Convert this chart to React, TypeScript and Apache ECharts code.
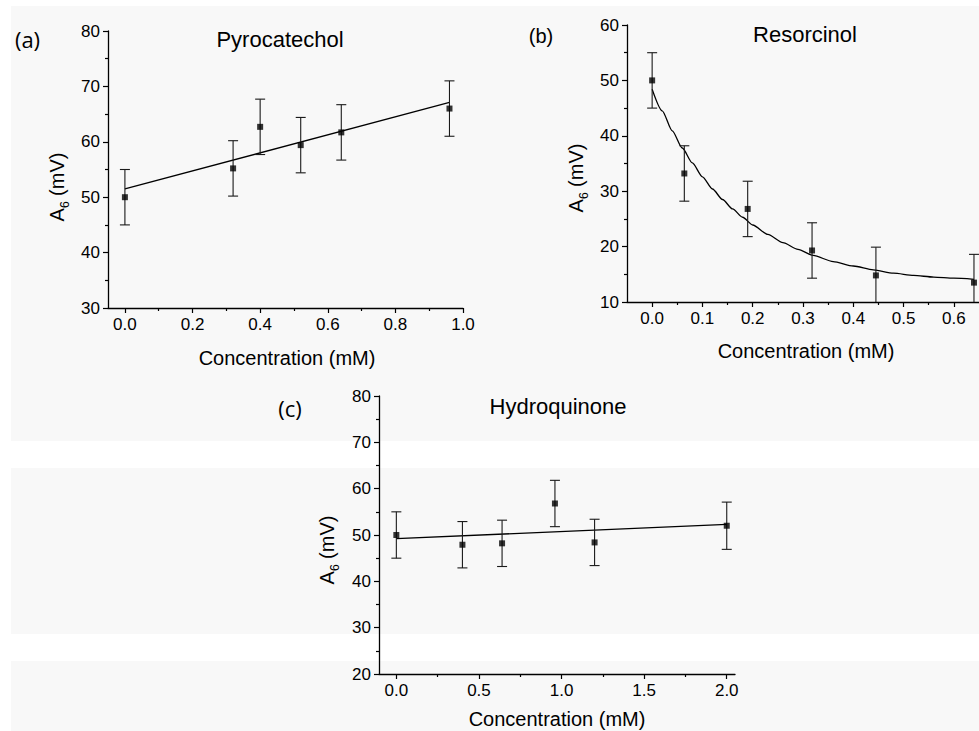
import React, { useEffect, useRef } from "react";
import * as echarts from "echarts";

// ---- Panel (a) Pyrocatechol ----
const pyroConc = [0, 0.32, 0.4, 0.52, 0.64, 0.96];
const pyroA6 = [50.0, 55.2, 62.7, 59.4, 61.7, 66.0];
const pyroErr = [5, 5, 5, 5, 5, 5];
const pyroFitX = [0, 0.96];
const pyroFitY = [51.5, 67.1];

// ---- Panel (b) Resorcinol ----
const resoConc = [0, 0.064, 0.19, 0.318, 0.445, 0.64];
const resoA6 = [50.0, 33.2, 26.8, 19.3, 14.8, 13.5];
const resoErr = [5, 5, 5, 5, 5.1, 5.1];
const resoFitX = [0, 0.02, 0.04, 0.06, 0.08, 0.1, 0.12, 0.14, 0.16, 0.18, 0.2, 0.23, 0.26, 0.29, 0.32, 0.36, 0.4, 0.44, 0.48, 0.52, 0.56, 0.6, 0.64];
const resoFitY = [48.4, 44.5, 40.9, 37.8, 35.1, 32.6, 30.4, 28.5, 26.8, 25.3, 23.9, 22.2, 20.7, 19.5, 18.4, 17.3, 16.5, 15.8, 15.2, 14.8, 14.5, 14.3, 14.1];

// ---- Panel (c) Hydroquinone ----
const hydroConc = [0, 0.4, 0.64, 0.96, 1.2, 2.0];
const hydroA6 = [50.0, 47.9, 48.2, 56.8, 48.4, 52.0];
const hydroErr = [5, 5, 5, 5, 5, 5.1];
const hydroFitX = [0, 2.0];
const hydroFitY = [49.2, 52.3];

// ---- Tick values ----
const xTicksA = [0, 0.2, 0.4, 0.6, 0.8, 1.0];
const xMinorA = [0.1, 0.3, 0.5, 0.7, 0.9];
const xTicksB = [0, 0.1, 0.2, 0.3, 0.4, 0.5, 0.6];
const xMinorB = [0.05, 0.15, 0.25, 0.35, 0.45, 0.55];
const xTicksC = [0, 0.5, 1.0, 1.5, 2.0];
const xMinorC = [0.25, 0.75, 1.25, 1.75];

const ARIAL = "'Liberation Sans', Arial, sans-serif";
const CALIBRI = "'Open Sans', 'Noto Sans', sans-serif";
const INK = "#000";

const zip = (xs: number[], ys: number[]) => xs.map((x, i) => [x, ys[i]]);
const errData = (xs: number[], ys: number[], es: number[]) =>
  xs.map((x, i) => [x, ys[i] - es[i], ys[i] + es[i]]);

function makeXAxes(gridIndex: number, min: number, max: number, ticks: number[], minor: number[]) {
  return [
    {
      type: "value",
      gridIndex,
      position: "bottom",
      min,
      max,
      axisLine: { show: true, onZero: false, lineStyle: { color: INK, width: 1.3 } },
      axisTick: { show: true, length: 5, inside: false, customValues: ticks, lineStyle: { color: INK, width: 1.2 } },
      axisLabel: {
        show: true,
        customValues: ticks,
        formatter: (v: number) => v.toFixed(1),
        fontSize: 17,
        fontFamily: ARIAL,
        color: INK,
        margin: 8,
      },
      splitLine: { show: false },
    },
    {
      type: "value",
      gridIndex,
      position: "bottom",
      min,
      max,
      axisLine: { show: false, onZero: false },
      axisTick: { show: true, length: 3, inside: false, customValues: minor, lineStyle: { color: INK, width: 1.2 } },
      axisLabel: { show: false },
      splitLine: { show: false },
    },
  ];
}

function makeYAxis(gridIndex: number, min: number, max: number) {
  return {
    type: "value",
    gridIndex,
    position: "left",
    min,
    max,
    interval: 10,
    axisLine: { show: true, onZero: false, lineStyle: { color: INK, width: 1.3 } },
    axisTick: { show: true, length: 5, inside: false, lineStyle: { color: INK, width: 1.2 } },
    minorTick: { show: true, splitNumber: 2, length: 3, lineStyle: { color: INK, width: 1.2 } },
    axisLabel: { fontSize: 17, fontFamily: ARIAL, color: INK, margin: 8 },
    splitLine: { show: false },
  };
}

function makeSeries(
  idx: number,
  xs: number[],
  ys: number[],
  es: number[],
  fx: number[],
  fy: number[],
  smooth: boolean
) {
  return [
    {
      type: "line",
      xAxisIndex: idx * 2,
      yAxisIndex: idx,
      data: zip(fx, fy),
      symbol: "none",
      smooth: smooth ? 0.25 : false,
      smoothMonotone: smooth ? "x" : undefined,
      lineStyle: { color: INK, width: 1.3 },
      silent: true,
      z: 3,
    },
    {
      type: "custom",
      xAxisIndex: idx * 2,
      yAxisIndex: idx,
      clip: true,
      data: errData(xs, ys, es),
      encode: { x: 0, y: [1, 2] },
      z: 4,
      renderItem: (params: any, api: any) => {
        const x = api.value(0);
        const lo = api.coord([x, api.value(1)]);
        const hi = api.coord([x, api.value(2)]);
        const w = 5;
        const st = { stroke: "#1a1a1a", lineWidth: 1.1 };
        return {
          type: "group",
          children: [
            { type: "line", shape: { x1: lo[0], y1: lo[1], x2: hi[0], y2: hi[1] }, style: st },
            { type: "line", shape: { x1: lo[0] - w, y1: lo[1], x2: lo[0] + w, y2: lo[1] }, style: st },
            { type: "line", shape: { x1: hi[0] - w, y1: hi[1], x2: hi[0] + w, y2: hi[1] }, style: st },
          ],
        };
      },
    },
    {
      type: "scatter",
      xAxisIndex: idx * 2,
      yAxisIndex: idx,
      data: zip(xs, ys),
      symbol: "rect",
      symbolSize: 6,
      itemStyle: { color: INK },
      z: 5,
    },
  ];
}

const text = (t: string, x: number, y: number, size: number, family: string, extra: any = {}) => ({
  type: "text",
  x,
  y,
  z: 10,
  style: {
    text: t,
    fontSize: size,
    fontFamily: family,
    fill: INK,
    align: "center",
    verticalAlign: "middle",
  },
  ...extra,
});

const yTitle = (x: number, y: number) => ({
  type: "text",
  x,
  y,
  z: 10,
  rotation: Math.PI / 2,
  style: {
    text: "{a|A}{s|6}{a| (mV)}",
    align: "center",
    verticalAlign: "middle",
    fill: INK,
    rich: {
      a: { fontSize: 20, fontFamily: ARIAL, fill: INK, lineHeight: 28 },
      s: { fontSize: 12, fontFamily: ARIAL, fill: INK, lineHeight: 28, verticalAlign: "bottom" },
    },
  },
});

const bg = (x: number, y: number, w: number, h: number, color: string) => ({
  type: "rect",
  z: -10,
  silent: true,
  shape: { x, y, width: w, height: h },
  style: { fill: color },
});

export default function App() {
  const ref = useRef<HTMLDivElement>(null);
  useEffect(() => {
    if (!ref.current) return;
    const chart = echarts.init(ref.current, undefined, { renderer: "svg" });
    const option: any = {
      animation: false,
      backgroundColor: "#ffffff",
      grid: [
        { left: 108, top: 31, width: 355, height: 277 },
        { left: 627, top: 25, width: 356.5, height: 277 },
        { left: 379, top: 396, width: 356, height: 278 },
      ],
      xAxis: [
        ...makeXAxes(0, -0.05, 1.0, xTicksA, xMinorA),
        ...makeXAxes(1, -0.05, 0.65, xTicksB, xMinorB),
        ...makeXAxes(2, -0.105, 2.05, xTicksC, xMinorC),
      ],
      yAxis: [makeYAxis(0, 30, 80), makeYAxis(1, 10, 60), makeYAxis(2, 20, 80)],
      series: [
        ...makeSeries(0, pyroConc, pyroA6, pyroErr, pyroFitX, pyroFitY, false),
        ...makeSeries(1, resoConc, resoA6, resoErr, resoFitX, resoFitY, true),
        ...makeSeries(2, hydroConc, hydroA6, hydroErr, hydroFitX, hydroFitY, false),
      ],
      graphic: [
        bg(11, 6, 968, 435, "#f8f8f8"),
        bg(11, 468, 968, 166, "#f8f8f8"),
        bg(11, 661, 968, 70, "#f8f8f8"),
        text("(a)", 27.5, 38.5, 22, CALIBRI),
        text("(b)", 541, 36, 20, ARIAL),
        text("(c)", 290, 407.5, 22, CALIBRI),
        text("Pyrocatechol", 280, 39.5, 22, ARIAL),
        text("Resorcinol", 805, 34, 22, ARIAL),
        text("Hydroquinone", 558, 406.5, 22, ARIAL),
        text("Concentration (mM)", 287, 358, 20, ARIAL),
        text("Concentration (mM)", 806, 351, 20, ARIAL),
        text("Concentration (mM)", 557, 719, 20, ARIAL),
        yTitle(57, 187),
        yTitle(576, 178),
        yTitle(327, 550),
      ],
    };
    chart.setOption(option);
    return () => chart.dispose();
  }, []);
  return (
    <div
      ref={ref}
      style={{ position: "fixed", left: 0, top: 0, width: 979, height: 731 }}
    />
  );
}
